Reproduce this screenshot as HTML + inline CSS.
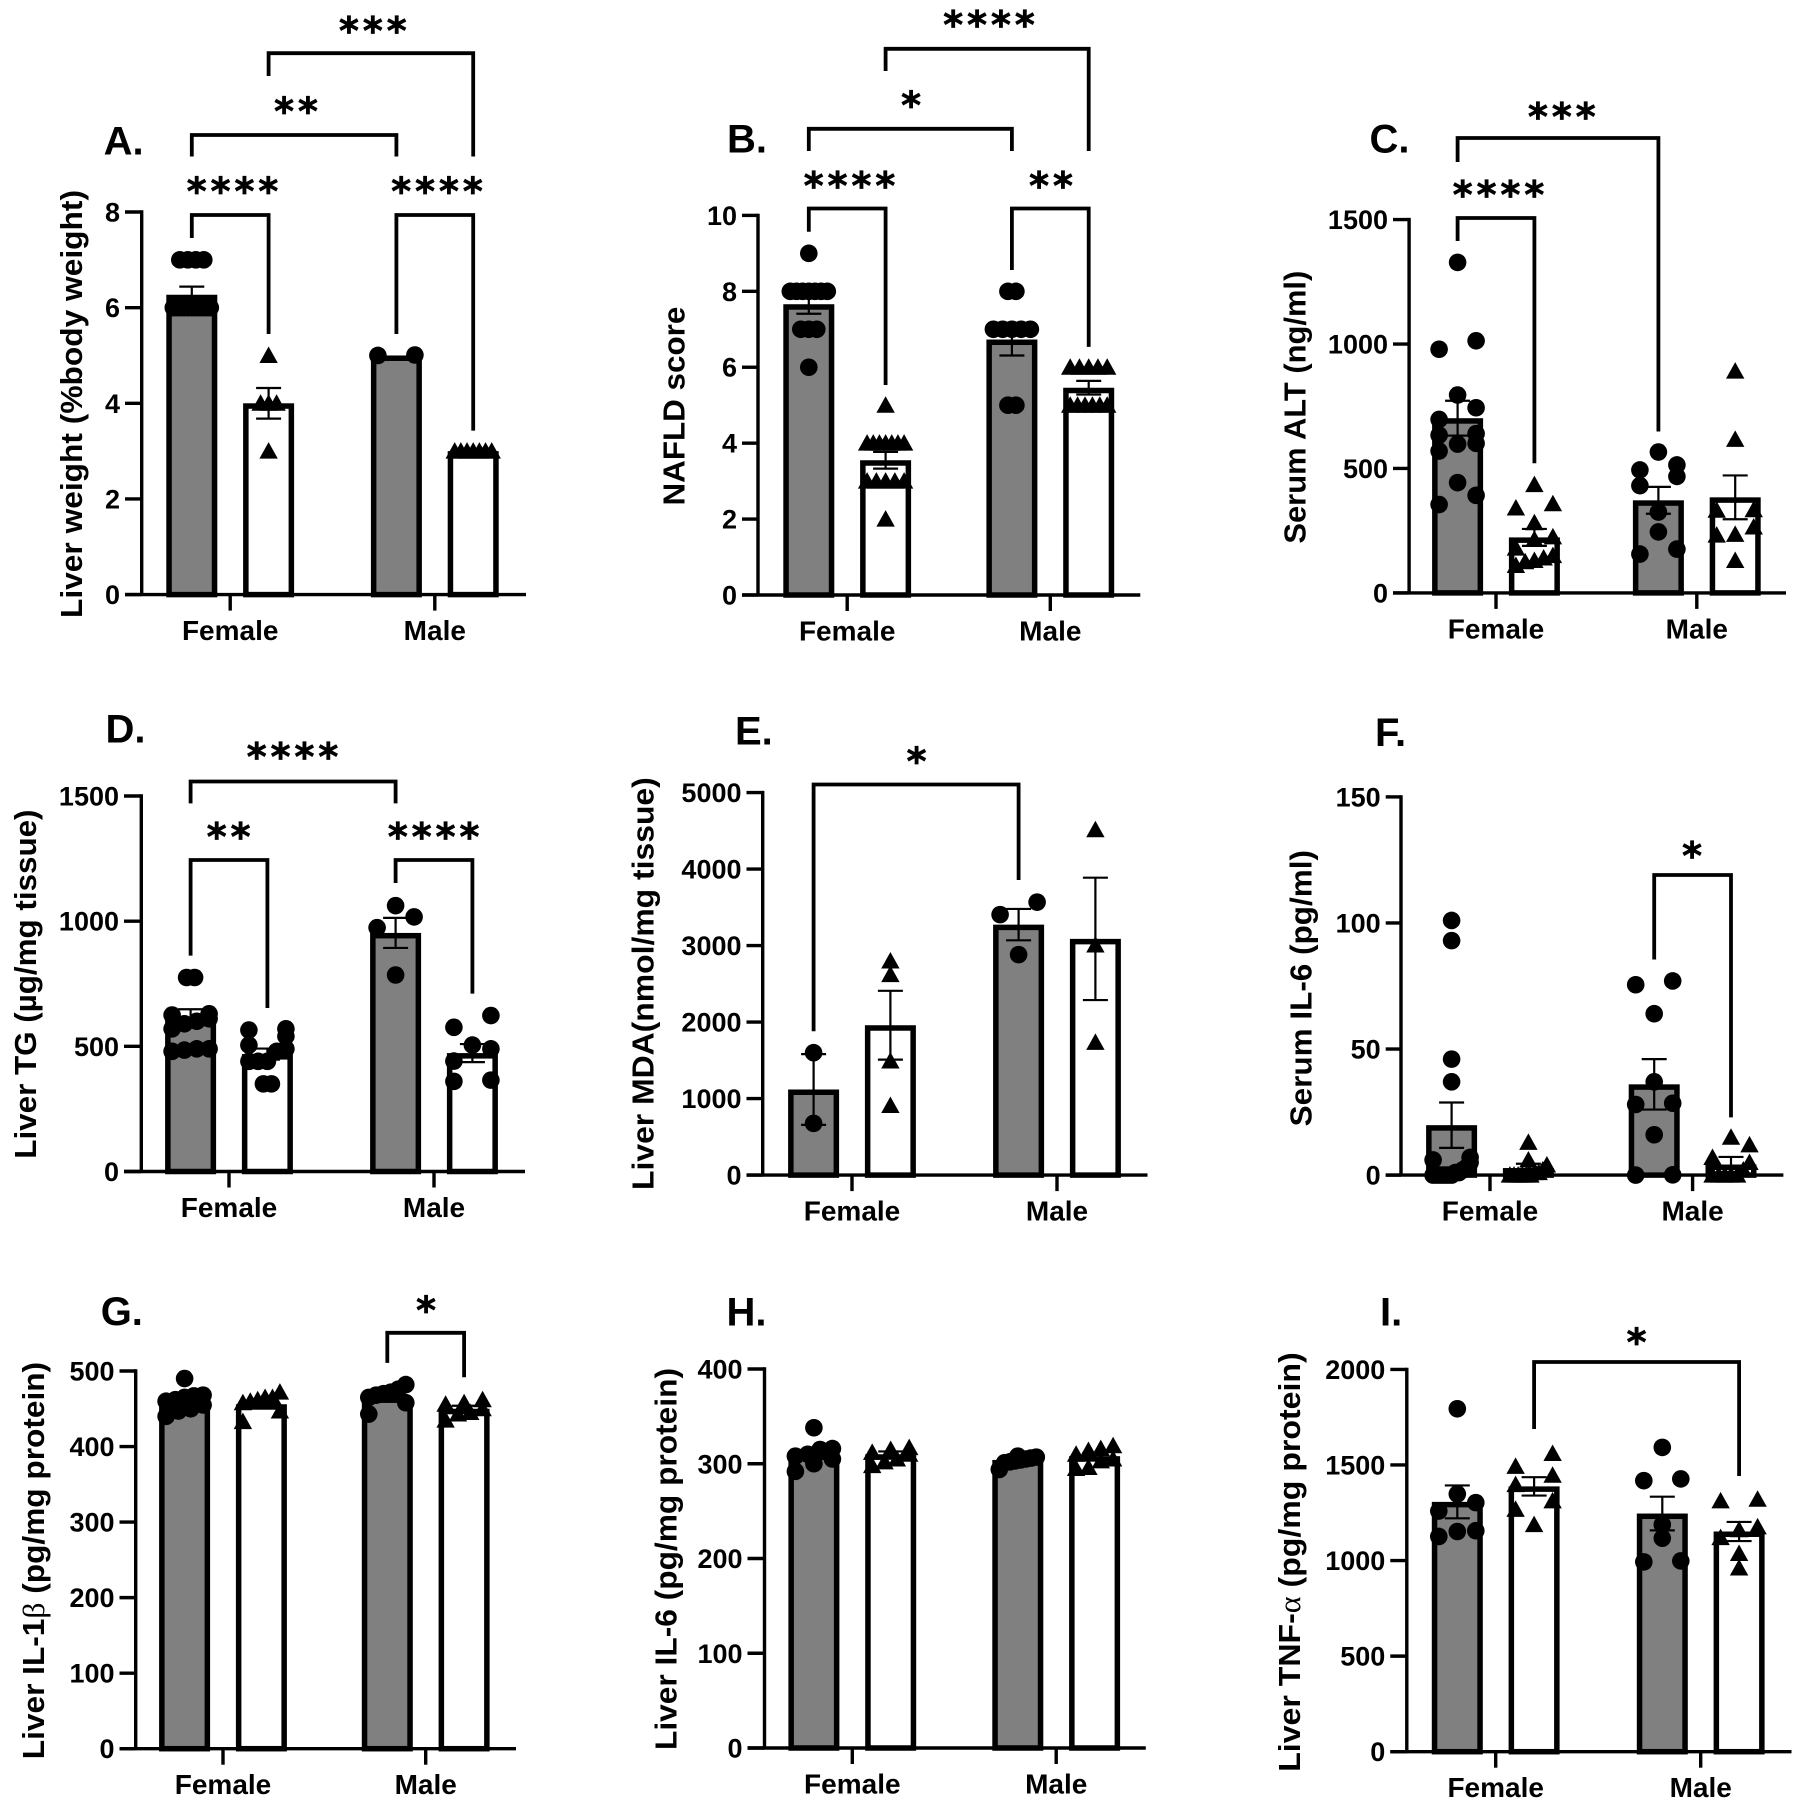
<!DOCTYPE html>
<html lang="en">
<head>
<meta charset="utf-8">
<title>Liver and serum measures by sex</title>
<style>
html,body{margin:0;padding:0;background:#fff;width:1800px;height:1812px;overflow:hidden}
svg{display:block}
text{font-family:"Liberation Sans",Arial,sans-serif;font-weight:bold;fill:#000}
.stars{font-family:"DejaVu Sans","Liberation Sans",sans-serif;stroke:#000;stroke-width:.7}
.greek{font-family:"Liberation Serif",serif;font-weight:normal}
</style>
</head>
<body>
<svg id="figure" xmlns="http://www.w3.org/2000/svg" width="1800" height="1812" viewBox="0 0 1800 1812">
<rect x="0" y="0" width="1800" height="1812" fill="#fff"/>
</svg>
<script>
const categories = ['Female', 'Male'];

/* Panel A */
const panelA_ticks = [0, 2, 4, 6, 8];
const panelA_means = [6.27, 4.0, 5.0, 3.0];
const panelA_sems = [0.17, 0.32, 0, 0];
const panelA_femaleGrey = [7, 7, 7, 7, 6, 6, 6, 6, 6, 6, 6, 6, 6, 6, 6];
const panelA_femaleWhite = [5, 4, 4, 4, 3];
const panelA_maleGrey = [5.01, 5];
const panelA_maleWhite = [3, 3, 3, 3, 3, 3, 3];

/* Panel B */
const panelB_ticks = [0, 2, 4, 6, 8, 10];
const panelB_means = [7.66, 3.55, 6.73, 5.46];
const panelB_sems = [0.25, 0.22, 0.42, 0.18];
const panelB_femaleGrey = [9, 8, 8, 8, 8, 8, 8, 8, 7, 7, 7, 6];
const panelB_femaleWhite = [5, 4, 4, 4, 4, 4, 4, 4, 3, 3, 3, 3, 3, 2];
const panelB_maleGrey = [8, 8, 7, 7, 7, 7, 7, 5, 5];
const panelB_maleWhite = [6, 6, 6, 6, 6, 5, 5, 5, 5, 5, 5];

/* Panel C */
const panelC_ticks = [0, 500, 1000, 1500];
const panelC_means = [702, 223, 372, 384];
const panelC_sems = [70, 34, 54, 88];
const panelC_femaleGrey = [1328, 1013, 979, 795, 744, 697, 640, 634, 601, 598, 570, 443, 392, 355];
const panelC_femaleWhite = [435, 358, 341, 282, 225, 215, 180, 150, 140, 130, 125, 110];
const panelC_maleGrey = [566, 514, 494, 468, 431, 325, 245, 176, 156];
const panelC_maleWhite = [891, 617, 334, 332, 265, 235, 232, 130];

/* Panel D */
const panelD_ticks = [0, 500, 1000, 1500];
const panelD_means = [618, 469, 953, 473];
const panelD_sems = [30, 22, 60, 36];
const panelD_femaleGrey = [775, 775, 630, 625, 610, 600, 590, 570, 490, 490, 485, 480];
const panelD_femaleWhite = [570, 565, 540, 505, 490, 480, 440, 440, 440, 350, 350];
const panelD_maleGrey = [1062, 1017, 974, 785];
const panelD_maleWhite = [623, 576, 505, 490, 441, 365, 360];

/* Panel E */
const panelE_ticks = [0, 1000, 2000, 3000, 4000, 5000];
const panelE_means = [1119, 1959, 3274, 3088];
const panelE_sems = [462, 450, 205, 800];
const panelE_femaleGrey = [1600, 676];
const panelE_femaleWhite = [2798, 2621, 1492, 909];
const panelE_maleGrey = [3568, 3405, 2882];
const panelE_maleWhite = [4515, 3008, 1735];

/* Panel F */
const panelF_ticks = [0, 50, 100, 150];
const panelF_means = [19.8, 2.8, 36, 4.2];
const panelF_sems = [9, 1.7, 10, 3];
const panelF_femaleGrey = [101, 93, 46, 37, 7, 6, 5, 3, 2, 1, 1, 0, 0, 0, 0, 0, 0];
const panelF_femaleWhite = [13, 6, 4, 2, 1, 1, 0, 0, 0, 0, 0, 0];
const panelF_maleGrey = [77, 75.5, 64, 37, 28.5, 28, 16, 0.1, 0];
const panelF_maleWhite = [15, 12, 7, 5, 2, 0, 0, 0, 0, 0];

/* Panel G */
const panelG_ticks = [0, 100, 200, 300, 400, 500];
const panelG_means = [460, 456, 465, 450];
const panelG_sems = [5, 4, 4, 4];
const panelG_femaleGrey = [490, 468, 467, 465, 462, 460, 455, 450, 447, 440];
const panelG_femaleWhite = [472, 465, 465, 462, 460, 458, 447, 433];
const panelG_maleGrey = [482, 476, 472, 470, 468, 465, 458, 443];
const panelG_maleWhite = [462, 458, 456, 450, 445, 443, 435];

/* Panel H */
const panelH_ticks = [0, 100, 200, 300, 400];
const panelH_means = [310, 310, 304, 308];
const panelH_sems = [5, 3, 1.5, 3];
const panelH_femaleGrey = [338, 316, 315, 310, 308, 305, 300, 292];
const panelH_femaleWhite = [317, 315, 312, 310, 305, 302, 298];
const panelH_maleGrey = [308, 307, 306, 305, 304, 303, 302, 301, 294];
const panelH_maleWhite = [319, 316, 314, 310, 305, 303, 296, 295];

/* Panel I */
const panelI_ticks = [0, 500, 1000, 1500, 2000];
const panelI_means = [1307, 1388, 1246, 1152];
const panelI_sems = [86, 48, 88, 50];
const panelI_femaleGrey = [1794, 1348, 1303, 1259, 1156, 1152, 1126];
const panelI_femaleWhite = [1560, 1493, 1446, 1397, 1312, 1268, 1188];
const panelI_maleGrey = [1592, 1427, 1418, 1188, 1117, 998, 993];
const panelI_maleWhite = [1321, 1312, 1176, 1161, 1120, 1037, 961];

/* Page layout: where each panel's frame sits, and what it reads */
const panels = [
  {dx:-1, label:'A.', lx:104.6, ly:154.5, title:'Liver weight (%body weight)', tx:83, t1:190, t2:618,
   ax:142.7, yTop:212, y0:594.6, left:126, right:527, groups:[231.2,435.8], ticks:panelA_ticks, means:panelA_means, sems:panelA_sems,
   points:[panelA_femaleGrey,panelA_femaleWhite,panelA_maleGrey,panelA_maleWhite],
   brackets:[{a:1,b:3,y:53.2,ya:76,yb:156.5,s:'***',sx:373.8,sy:25},{a:0,b:2,y:135,ya:156.5,yb:156.5,s:'**',sx:297,sy:105.6},{a:0,b:1,y:215,ya:238,yb:334,s:'****',sx:233.5,sy:185.5},{a:2,b:3,y:215,ya:334,yb:430.6,s:'****',sx:438,sy:185.5}]},
  {dx:-2, label:'B.', lx:729, ly:152.5, title:'NAFLD score', tx:686.5, t1:306.7, t2:505.5,
   ax:760, yTop:215.4, y0:595, left:744, right:1142.3, groups:[849.2,1052.3], ticks:panelB_ticks, means:panelB_means, sems:panelB_sems,
   points:[panelB_femaleGrey,panelB_femaleWhite,panelB_maleGrey,panelB_maleWhite],
   brackets:[{a:1,b:3,y:48.8,ya:71,yb:151,s:'****',sx:991,sy:19},{a:0,b:2,y:128.8,ya:151,yb:151,s:'*',sx:913,sy:99.7},{a:0,b:1,y:208.5,ya:231.8,yb:385,s:'****',sx:851.5,sy:180},{a:2,b:3,y:208.5,ya:270,yb:346.9,s:'**',sx:1053,sy:180}]},
  {dx:-0.5, label:'C.', lx:1370, ly:152.5, title:'Serum ALT (ng/ml)', tx:1305.8, t1:270.7, t2:543.6,
   ax:1409.6, yTop:219.6, y0:592.9, left:1393.5, right:1786.5, groups:[1496.5,1697.3], ticks:panelC_ticks, means:panelC_means, sems:panelC_sems,
   points:[panelC_femaleGrey,panelC_femaleWhite,panelC_maleGrey,panelC_maleWhite],
   brackets:[{a:0,b:2,y:138,ya:162,yb:431.5,s:'***',sx:1562.3,sy:111},{a:0,b:1,y:218,ya:241,yb:463.2,s:'****',sx:1499,sy:189}]},
  {dx:-1, label:'D.', lx:106.5, ly:742.3, title:'Liver TG (µg/mg tissue)', tx:37, t1:809.5, t2:1158.7,
   ax:142.3, yTop:796, y0:1171.5, left:125, right:526, groups:[230,435], ticks:panelD_ticks, means:panelD_means, sems:panelD_sems,
   points:[panelD_femaleGrey,panelD_femaleWhite,panelD_maleGrey,panelD_maleWhite], dots:true,
   brackets:[{a:0,b:2,y:781.5,ya:803.4,yb:803.4,s:'****',sx:293.5,sy:751},{a:0,b:1,y:860,ya:955.6,yb:1008,s:'**',sx:229.6,sy:831},{a:2,b:3,y:860,ya:883,yb:993.6,s:'****',sx:434.6,sy:831}]},
  {dx:-1.5, label:'E.', lx:736.5, ly:744.5, title:'Liver MDA(nmol/mg tissue)', tx:655, t1:777.2, t2:1190,
   ax:764.2, yTop:792.6, y0:1175.1, left:748, right:1149, groups:[853.5,1058.5], ticks:panelE_ticks, means:panelE_means, sems:panelE_sems,
   points:[panelE_femaleGrey,panelE_femaleWhite,panelE_maleGrey,panelE_maleWhite],
   brackets:[{a:0,b:2,y:784.5,ya:1031.3,yb:880,s:'*',sx:918,sy:755.7}]},
  {dx:-2, label:'F.', lx:1377, ly:746.2, title:'Serum IL-6  (pg/ml)', tx:1313.5, t1:850, t2:1126.4,
   ax:1403, yTop:796.9, y0:1175.1, left:1387.7, right:1785.4, groups:[1492,1694.6], ticks:panelF_ticks, means:panelF_means, sems:panelF_sems,
   points:[panelF_femaleGrey,panelF_femaleWhite,panelF_maleGrey,panelF_maleWhite],
   brackets:[{a:2,b:3,y:875,ya:959.5,yb:1117.4,s:'*',sx:1694,sy:849.8}]},
  {dx:-2, label:'G.', lx:102.7, ly:1325.2, title:'Liver IL-1β (pg/mg protein)', tx:46, t1:1361.9, t2:1759.2,
   ax:137.7, yTop:1371, y0:1748.7, left:121.5, right:518, groups:[225,427.7], ticks:panelG_ticks, means:panelG_means, sems:panelG_sems,
   points:[panelG_femaleGrey,panelG_femaleWhite,panelG_maleGrey,panelG_maleWhite],
   brackets:[{a:2,b:3,y:1332.8,ya:1362.9,yb:1377.2,s:'*',sx:428,sy:1304.6}]},
  {dx:-1.5, label:'H.', lx:728, ly:1325.5, title:'Liver IL-6  (pg/mg protein)', tx:678, t1:1368, t2:1750,
   ax:766, yTop:1369, y0:1748, left:749, right:1147.3, groups:[853.8,1057.7], ticks:panelH_ticks, means:panelH_means, sems:panelH_sems,
   points:[panelH_femaleGrey,panelH_femaleWhite,panelH_maleGrey,panelH_maleWhite],
   brackets:[]},
  {dx:-2, label:'I.', lx:1382, ly:1325.5, title:'Liver TNF-α (pg/mg protein)', tx:1302, t1:1352.3, t2:1771.8,
   ax:1408.8, yTop:1369.4, y0:1751.7, left:1392.3, right:1793.5, groups:[1497.7,1702.7], ticks:panelI_ticks, means:panelI_means, sems:panelI_sems,
   points:[panelI_femaleGrey,panelI_femaleWhite,panelI_maleGrey,panelI_maleWhite],
   brackets:[{a:1,b:3,y:1362,ya:1429,yb:1476,s:'*',sx:1638.5,sy:1336.3}]}
];

const SVG_NS = 'http://www.w3.org/2000/svg';
const figure = document.getElementById('figure');
const BAR_OFFSET = 38.4, BAR_W = 51, BAR_SW = 5.5, DOT_R = 8.8, SWARM_W = 37, TIED_GAP = 8, BIN_PX = 13;

function make(tag, props, parent) {
  const el = document.createElementNS(SVG_NS, tag);
  for (const k in props) el.setAttribute(k, props[k]);
  parent.appendChild(el);
  return el;
}

/* Groups nearby values into rows and spreads each row symmetrically, returning x offsets.
   Small rows of exactly tied values stay close together. */
function swarm(values, yScale) {
  const order = values.map((v, i) => i).sort((p, q) => values[p] - values[q]);
  const offsets = new Array(values.length).fill(0);
  let row = [];
  const flush = () => {
    const tied = row.length > 1 && row.length <= 4 && row.every(idx => values[idx] === values[row[0]]);
    const gap = row.length > 1 ? (tied ? TIED_GAP : SWARM_W / (row.length - 1)) : 0;
    row.forEach((idx, n) => { offsets[idx] = (n - (row.length - 1) / 2) * gap; });
    row = [];
  };
  order.forEach(idx => {
    if (row.length && Math.abs(yScale(values[row[0]]) - yScale(values[idx])) > BIN_PX) flush();
    row.push(idx);
  });
  flush();
  return offsets;
}

panels.forEach(p => {
  const g = make('g', {transform:'translate(' + p.dx + ' 0)'}, figure);
  
  

  const yMax = p.ticks[p.ticks.length - 1];
  const yScale = v => p.y0 - (v / yMax) * (p.y0 - p.yTop);
  const barX = i => p.groups[Math.floor(i / 2)] + (i % 2 === 0 ? -BAR_OFFSET : BAR_OFFSET);

  const panelLabel = make('text', {x:p.lx, y:p.ly, 'font-size':40}, g);
  
  
  panelLabel.textContent = p.label;

  const tc = (p.t1 + p.t2) / 2;
  const title = make('text', {x:p.tx, y:tc, 'font-size':31, 'text-anchor':'middle', textLength:p.t2 - p.t1, lengthAdjust:'spacingAndGlyphs', transform:'rotate(-90 ' + p.tx + ' ' + tc + ')'}, g);
  
  
  p.title.split(/([αβ])/).forEach(part => {
    const span = document.createElementNS(SVG_NS, 'tspan');
    if (part === 'α' || part === 'β') span.setAttribute('class', 'greek');
    span.textContent = part;
    title.appendChild(span);
  });

  /* bars */
  p.means.forEach((m, i) => {
    const top = yScale(m) + BAR_SW / 2;
    const bar = make('rect', {x:barX(i) - BAR_W / 2 + BAR_SW / 2, y:top, width:BAR_W - BAR_SW, height:Math.max(0, p.y0 - top), fill:i % 2 === 0 ? '#808080' : '#fff', stroke:'#000', 'stroke-width':BAR_SW}, g);
    
    
  });

  /* axes and ticks */
  const yAxis = make('line', {x1:p.ax, x2:p.ax, y1:p.yTop - 1.7, y2:p.y0, stroke:'#000', 'stroke-width':3.4}, g);
  
  

  const xAxis = make('line', {x1:p.left, x2:p.right, y1:p.y0, y2:p.y0, stroke:'#000', 'stroke-width':3.4}, g);
  
  

  p.ticks.forEach(t => {
    const tick = make('line', {x1:p.left, x2:p.ax, y1:yScale(t), y2:yScale(t), stroke:'#000', 'stroke-width':3.4}, g);
    
    

    const tickLabel = make('text', {x:p.left - 5, y:yScale(t) + 9.5, 'font-size':27, 'text-anchor':'end'}, g);
    
    
    tickLabel.textContent = String(t);
  });

  categories.forEach((c, i) => {
    const tick = make('line', {x1:p.groups[i], x2:p.groups[i], y1:p.y0, y2:p.y0 + 16, stroke:'#000', 'stroke-width':3.4}, g);
    
    

    const catLabel = make('text', {x:p.groups[i], y:p.y0 + 45.5, 'font-size':28, 'text-anchor':'middle'}, g);
    
    
    catLabel.textContent = c;
  });

  /* individual points */
  p.points.forEach((vals, i) => {
    const offs = swarm(vals, yScale);
    vals.forEach((v, j) => {
      const x = barX(i) + offs[j], y = yScale(v);
      if (i % 2 === 0 || p.dots) {
        const dot = make('circle', {cx:x, cy:y, r:DOT_R, fill:'#000'}, g);
        
        
      } else {
        const tri = make('path', {d:'M' + x + ' ' + (y - 9) + 'L' + (x + 9.2) + ' ' + (y + 7.5) + 'L' + (x - 9.2) + ' ' + (y + 7.5) + 'Z', fill:'#000'}, g);
        
        
      }
    });
  });

  /* error bars */
  p.sems.forEach((s, i) => {
    if (!s) return;
    const x = barX(i), hi = yScale(p.means[i] + s), lo = yScale(p.means[i] - s);
    const err = make('path', {d:'M' + x + ' ' + hi + 'V' + lo + 'M' + (x - 12.5) + ' ' + hi + 'H' + (x + 12.5) + 'M' + (x - 12.5) + ' ' + lo + 'H' + (x + 12.5), fill:'none', stroke:'#000', 'stroke-width':2.2}, g);
    
    
  });

  /* significance brackets */
  p.brackets.forEach(b => {
    const xa = barX(b.a), xb = barX(b.b);
    const br = make('path', {d:'M' + xa + ' ' + b.ya + 'V' + b.y + 'H' + xb + 'V' + b.yb, fill:'none', stroke:'#000', 'stroke-width':3.8}, g);
    
    

    const st = make('text', {x:b.sx + 2, y:b.sy + 19, 'font-size':38, 'text-anchor':'middle', 'letter-spacing':4, class:'stars'}, g);
    
    
    st.textContent = b.s;
  });
});
</script>
</body>
</html>
